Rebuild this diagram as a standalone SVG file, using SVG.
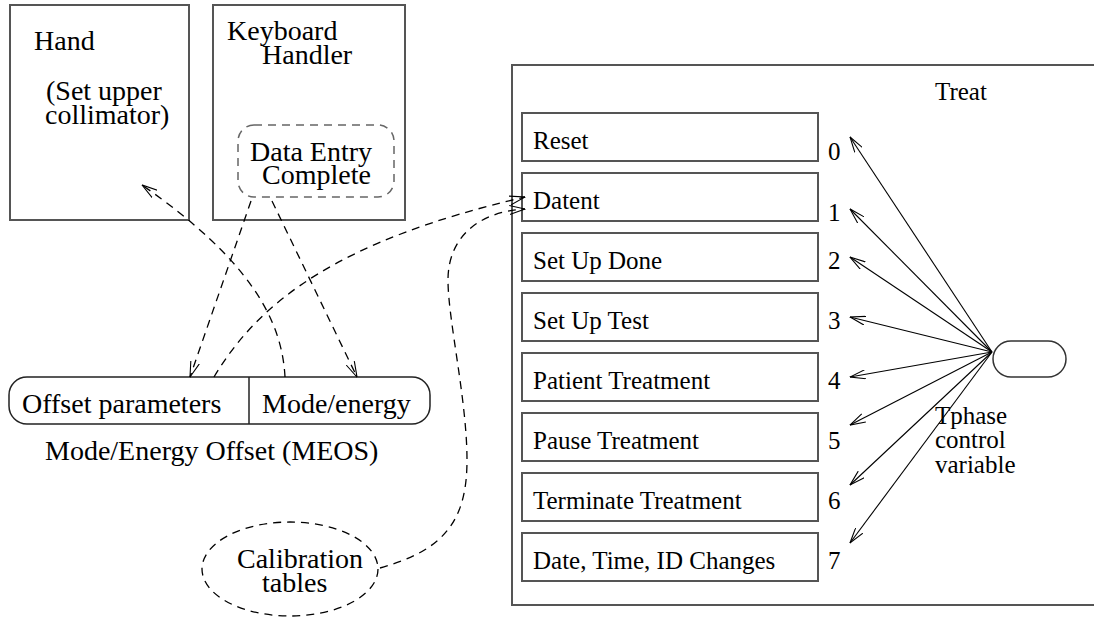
<svg xmlns="http://www.w3.org/2000/svg" width="1094" height="617" viewBox="0 0 1094 617">
<style>
  .box { fill: #fff; stroke: #555; stroke-width: 2; }
  .tl { font-family: "Liberation Serif", "Times New Roman", serif; font-size: 28px; fill: #000; }
  .tr { font-family: "Liberation Serif", "Times New Roman", serif; font-size: 25px; fill: #000; }
  .dash { fill: none; stroke: #000; stroke-width: 1.3; stroke-dasharray: 8 6; }
  .solid { fill: none; stroke: #000; stroke-width: 1.1; }
</style>
<defs>
  <marker id="arr" viewBox="0 0 16 10" refX="15.5" refY="5" markerWidth="16" markerHeight="10" markerUnits="userSpaceOnUse" orient="auto">
    <path d="M0,0.5 L15.5,5 L0,9.5" fill="none" stroke="#000" stroke-width="1.1"/>
  </marker>
</defs>
<rect width="1094" height="617" fill="#fff"/>

<g id="hand">
  <rect class="box" x="10" y="5" width="179" height="215"/>
  <text class="tl" x="34" y="50">Hand</text>
  <text class="tl" x="46" y="100">(Set upper</text>
  <text class="tl" x="45" y="124">collimator)</text>
</g>

<g id="keyboard-handler">
  <rect class="box" x="213" y="5" width="192" height="215"/>
  <text class="tl" x="227" y="40">Keyboard</text>
  <text class="tl" x="262" y="64">Handler</text>
</g>

<g id="data-entry-complete">
  <rect x="238" y="125" width="156" height="72" rx="16" fill="none" stroke="#666" stroke-width="1.5" stroke-dasharray="8 6"/>
  <text class="tl" x="250" y="161">Data Entry</text>
  <text class="tl" x="262" y="184">Complete</text>
</g>

<g id="meos">
  <rect x="9" y="377" width="421" height="47" rx="18" fill="#fff" stroke="#222" stroke-width="1.5"/>
  <line x1="249" y1="377" x2="249" y2="424" stroke="#222" stroke-width="1.5"/>
  <text class="tl" x="22" y="413">Offset parameters</text>
  <text class="tl" x="262" y="413">Mode/energy</text>
  <text class="tl" x="45" y="460">Mode/Energy Offset (MEOS)</text>
</g>

<g id="calibration">
  <ellipse cx="290" cy="569" rx="88" ry="47" fill="none" stroke="#000" stroke-width="1.3" stroke-dasharray="8 6"/>
  <text class="tl" x="237" y="568">Calibration</text>
  <text class="tl" x="262" y="592">tables</text>
</g>

<g id="treat">
  <rect class="box" x="512" y="65" width="600" height="540"/>
  <text class="tr" x="935" y="100">Treat</text>
  <rect class="box" x="522" y="113" width="296" height="48"/>
  <text class="tr" x="533" y="149">Reset</text>
  <rect class="box" x="522" y="173" width="296" height="48"/>
  <text class="tr" x="533" y="209">Datent</text>
  <rect class="box" x="522" y="233" width="296" height="48"/>
  <text class="tr" x="533" y="269">Set Up Done</text>
  <rect class="box" x="522" y="293" width="296" height="48"/>
  <text class="tr" x="533" y="329">Set Up Test</text>
  <rect class="box" x="522" y="353" width="296" height="48"/>
  <text class="tr" x="533" y="389">Patient Treatment</text>
  <rect class="box" x="522" y="413" width="296" height="48"/>
  <text class="tr" x="533" y="449">Pause Treatment</text>
  <rect class="box" x="522" y="473" width="296" height="48"/>
  <text class="tr" x="533" y="509">Terminate Treatment</text>
  <rect class="box" x="522" y="533" width="296" height="48"/>
  <text class="tr" x="533" y="569">Date, Time, ID Changes</text>
  <text class="tr" x="828" y="160">0</text>
  <text class="tr" x="828" y="221">1</text>
  <text class="tr" x="828" y="269">2</text>
  <text class="tr" x="828" y="329">3</text>
  <text class="tr" x="828" y="389">4</text>
  <text class="tr" x="828" y="449">5</text>
  <text class="tr" x="828" y="509">6</text>
  <text class="tr" x="828" y="569">7</text>
</g>

<g id="tphase">
  <rect x="993" y="341" width="73" height="36" rx="18" fill="#fff" stroke="#333" stroke-width="1.5"/>
  <text class="tr" x="935" y="424">Tphase</text>
  <text class="tr" x="935" y="448">control</text>
  <text class="tr" x="935" y="473">variable</text>
</g>

<g id="connectors">
  <path class="solid" d="M992,352 L850,137" marker-end="url(#arr)"/>
  <path class="solid" d="M992,352 L850,209" marker-end="url(#arr)"/>
  <path class="solid" d="M992,352 L850,257" marker-end="url(#arr)"/>
  <path class="solid" d="M992,352 L850,317" marker-end="url(#arr)"/>
  <path class="solid" d="M992,352 L850,377" marker-end="url(#arr)"/>
  <path class="solid" d="M992,352 L850,425" marker-end="url(#arr)"/>
  <path class="solid" d="M992,352 L850,485" marker-end="url(#arr)"/>
  <path class="solid" d="M992,352 L850,543" marker-end="url(#arr)"/>

  <path class="dash" d="M285,377 C282,320 250,260 142,185" marker-end="url(#arr)"/>
  <path class="dash" d="M251,201 L190,377" marker-end="url(#arr)"/>
  <path class="dash" d="M272,201 L357,377" marker-end="url(#arr)"/>
  <path class="dash" d="M214,377 C260,300 340,240 525,197" marker-end="url(#arr)"/>
  <path class="dash" d="M380,568 C445,550 467,520 467,460 C467,400 448,320 448,280 C448,240 475,212 525,209" marker-end="url(#arr)"/>
</g>
</svg>
